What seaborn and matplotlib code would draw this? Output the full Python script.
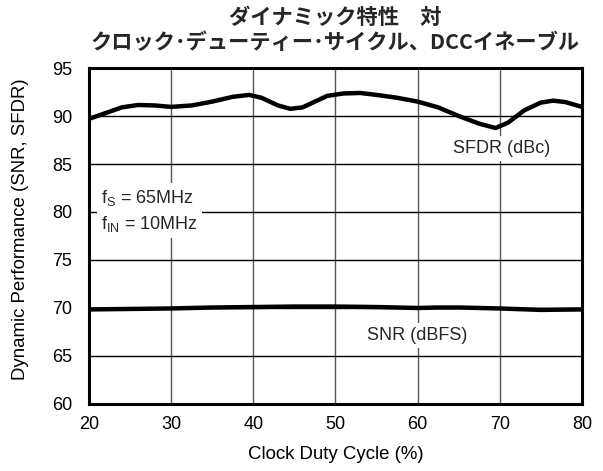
import matplotlib
matplotlib.use("Agg")
import matplotlib.pyplot as plt
import seaborn as sns
import pandas as pd

# Data
duty_sfdr = [20, 22, 24, 26, 28, 30, 32.5, 35, 37.5, 39.5, 41, 43, 44.5, 46, 47.5, 49, 51, 53, 55, 57.5, 60, 62.5, 65, 67.5, 69.5, 71, 73, 75, 76.5, 78, 80]
sfdr = [89.7, 90.3, 90.9, 91.15, 91.1, 90.95, 91.1, 91.5, 92.0, 92.2, 91.9, 91.1, 90.75, 90.9, 91.5, 92.1, 92.35, 92.4, 92.2, 91.9, 91.5, 90.9, 90.0, 89.2, 88.75, 89.3, 90.6, 91.4, 91.6, 91.45, 90.95]
duty_snr = [20, 25, 30, 35, 40, 45, 50, 55, 60, 62.5, 65, 70, 75, 80]
snr = [69.85, 69.9, 69.95, 70.05, 70.1, 70.15, 70.15, 70.1, 70.0, 70.05, 70.05, 69.95, 69.8, 69.85]

title_lines = ["ダイナミック特性　対", "クロック･デューティー･サイクル、DCCイネーブル"]
x_ticks = [20, 30, 40, 50, 60, 70, 80]
y_ticks = [60, 65, 70, 75, 80, 85, 90, 95]

sns.set_theme(style="white")
plt.rcParams['font.family'] = ['Liberation Sans', 'Noto Sans CJK JP', 'DejaVu Sans']
plt.rcParams['mathtext.fontset'] = 'custom'
plt.rcParams['mathtext.rm'] = 'Liberation Sans'

FS = 13
fig = plt.figure(figsize=(6.03, 4.71), dpi=100)
ax = fig.add_axes([0.1476, 0.1423, 0.8174, 0.7133])

df_sfdr = pd.DataFrame({"duty": duty_sfdr, "val": sfdr})
df_snr = pd.DataFrame({"duty": duty_snr, "val": snr})
sns.lineplot(data=df_sfdr, x="duty", y="val", ax=ax, color="black", linewidth=3.2, zorder=4)
sns.lineplot(data=df_snr, x="duty", y="val", ax=ax, color="black", linewidth=3.2, zorder=4)

ax.set_xlim(20, 80)
ax.set_ylim(60, 95)
ax.set_xticks(x_ticks)
ax.set_yticks(y_ticks)
ax.tick_params(axis='x', length=0, labelsize=FS, pad=9, colors='black')
ax.tick_params(axis='y', length=0, labelsize=FS, pad=12, colors='black')
for xv in x_ticks[1:-1]:
    ax.axvline(xv, color='#555555', linewidth=1.0, zorder=1)
for yv in y_ticks[1:-1]:
    ax.axhline(yv, color='black', linewidth=1.0, zorder=1)
for s in ax.spines.values():
    s.set_color('black')
    s.set_linewidth(2.2)
    s.set_zorder(6)

ax.set_xlabel("Clock Duty Cycle (%)", fontsize=13.4, labelpad=9, color='black')
ax.set_ylabel("Dynamic Performance (SNR, SFDR)", fontsize=13.4, color='black')
ax.yaxis.set_label_coords(-0.122, 0.52)

box = dict(facecolor='white', edgecolor='none', pad=3)
ax.text(21.5, 81.5, r"f$_\mathregular{S}$ = 65MHz", fontsize=FS, va='center', ha='left', bbox=box, zorder=5)
ax.text(21.5, 78.8, r"f$_\mathregular{IN}$ = 10MHz", fontsize=FS, va='center', ha='left', bbox=box, zorder=5)
ax.text(70.2, 86.6, "SFDR (dBc)", fontsize=FS, va='center', ha='center', bbox=box, zorder=5)
ax.text(60.0, 67.1, "SNR (dBFS)", fontsize=FS, va='center', ha='center', bbox=box, zorder=5)

fig.text(0.556, 0.962, title_lines[0], ha='center', va='center', fontsize=15.3, fontweight='bold',
         family=['Noto Sans CJK JP', 'DejaVu Sans'])
fig.text(0.556, 0.910, title_lines[1], ha='center', va='center', fontsize=15.3, fontweight='bold',
         family=['Noto Sans CJK JP', 'DejaVu Sans'])

fig.savefig("out.png", dpi=100)
